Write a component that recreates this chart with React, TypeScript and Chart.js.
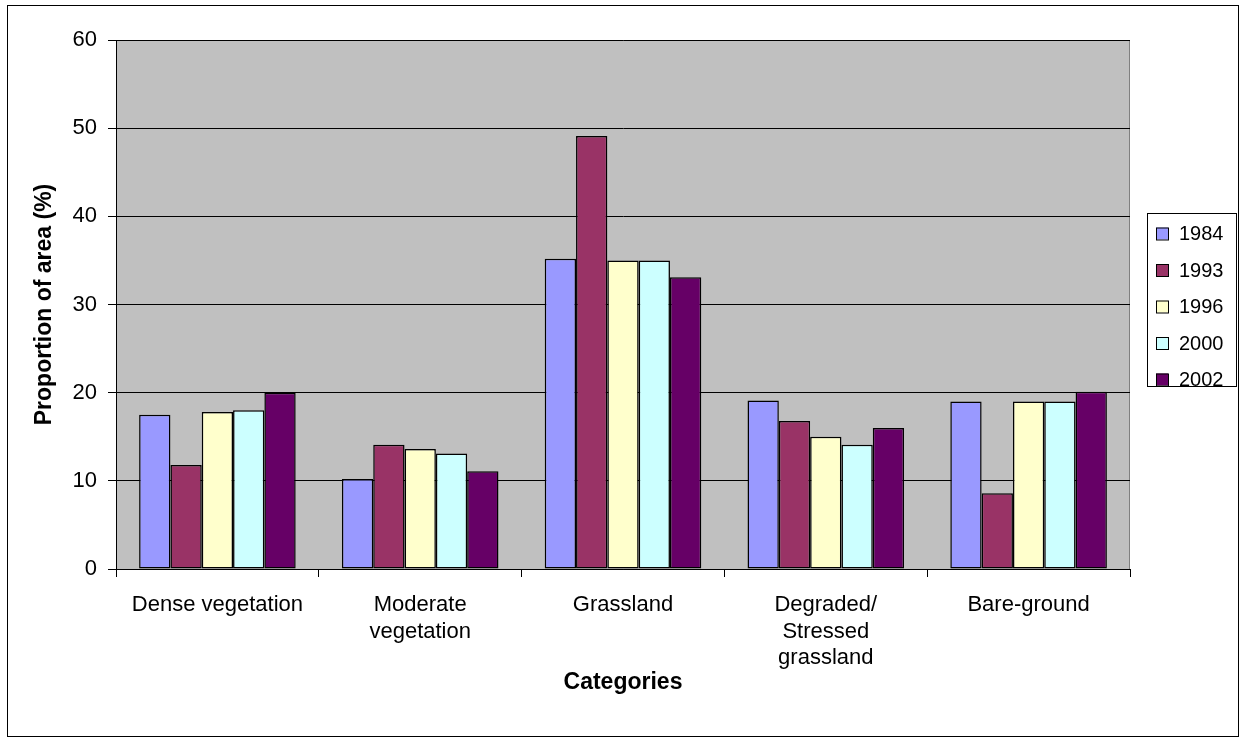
import React, { useEffect, useRef } from "react";
import { Chart, registerables } from "chart.js";

Chart.register(...registerables);

// Land-cover categories (multi-line labels on the x axis)
const categories: string[][] = [
  ["Dense vegetation"],
  ["Moderate", "vegetation"],
  ["Grassland"],
  ["Degraded/", "Stressed", "grassland"],
  ["Bare-ground"],
];

const years = ["1984", "1993", "1996", "2000", "2002"];

// Proportion of area (%) per category, one array per year
const values1984 = [17.5, 10.2, 35.2, 19.1, 19.0];
const values1993 = [11.8, 14.1, 49.1, 16.8, 8.6];
const values1996 = [17.8, 13.6, 35.0, 15.0, 19.0];
const values2000 = [18.0, 13.1, 35.0, 14.1, 19.0];
const values2002 = [20.0, 11.1, 33.1, 16.0, 20.1];

const yTicks = [0, 10, 20, 30, 40, 50, 60];

const seriesColors = ["#9999FF", "#993366", "#FFFFCC", "#CCFFFF", "#660066"];

const FONT = "'Liberation Sans', Arial, Helvetica, sans-serif";

// Page frame, plot background, axis titles and the boxed legend
const decorations = {
  id: "decorations",
  beforeDraw(chart: any) {
    const { ctx, chartArea } = chart;
    ctx.save();
    ctx.fillStyle = "#ffffff";
    ctx.fillRect(0, 0, chart.width, chart.height);
    ctx.strokeStyle = "#000000";
    ctx.lineWidth = 1;
    ctx.strokeRect(7.5, 5.5, 1231, 731);
    ctx.fillStyle = "#C0C0C0";
    ctx.fillRect(chartArea.left, chartArea.top, chartArea.right - chartArea.left, chartArea.bottom - chartArea.top);
    ctx.strokeStyle = "#808080";
    ctx.strokeRect(chartArea.left + 0.5, chartArea.top + 0.5, chartArea.right - chartArea.left - 1, chartArea.bottom - chartArea.top);
    ctx.restore();
  },
  afterDraw(chart: any) {
    const { ctx, chartArea } = chart;
    ctx.save();
    ctx.fillStyle = "#000000";
    ctx.font = `bold 23px ${FONT}`;
    ctx.textAlign = "center";
    ctx.textBaseline = "middle";
    ctx.fillText("Categories", (chartArea.left + chartArea.right) / 2, 683);
    ctx.translate(45, (chartArea.top + chartArea.bottom) / 2);
    ctx.rotate(-Math.PI / 2);
    ctx.fillText("Proportion of area (%)", 0, 0);
    ctx.restore();

    // legend
    const lx = 1147, ly = 213, lw = 89, lh = 173;
    ctx.save();
    ctx.fillStyle = "#ffffff";
    ctx.fillRect(lx, ly, lw, lh);
    ctx.strokeStyle = "#000000";
    ctx.lineWidth = 1;
    ctx.strokeRect(lx + 0.5, ly + 0.5, lw, lh);
    ctx.font = `20px ${FONT}`;
    ctx.textAlign = "left";
    ctx.textBaseline = "middle";
    chart.data.datasets.forEach((ds: any, i: number) => {
      const cy = 233.5 + i * 36.5;
      ctx.fillStyle = ds.backgroundColor;
      ctx.fillRect(1156, cy - 6, 12, 12);
      ctx.strokeStyle = "#000000";
      ctx.strokeRect(1156.5, cy - 5.5, 12, 12);
      ctx.fillStyle = "#000000";
      ctx.fillText(ds.label, 1179, cy + 1);
    });
    ctx.restore();
  },
};

export default function App() {
  const canvasRef = useRef<HTMLCanvasElement | null>(null);

  useEffect(() => {
    const canvas = canvasRef.current;
    if (!canvas) return;
    const seriesValues = [values1984, values1993, values1996, values2000, values2002];
    const chart = new Chart(canvas, {
      type: "bar",
      data: {
        labels: categories,
        datasets: years.map((y, i) => ({
          label: y,
          data: seriesValues[i],
          backgroundColor: seriesColors[i],
          borderColor: "#000000",
          borderWidth: 1.5,
          borderSkipped: false,
          categoryPercentage: 0.772,
          barPercentage: 1,
        })),
      },
      options: {
        responsive: false,
        animation: false,
        devicePixelRatio: 1,
        layout: { padding: { top: 40, right: 117, bottom: 0, left: 0 } },
        plugins: {
          legend: { display: false },
          tooltip: { enabled: false },
        },
        scales: {
          x: {
            type: "category",
            offset: true,
            grid: {
              display: true,
              drawOnChartArea: false,
              drawTicks: true,
              tickLength: 8,
              color: "#000000",
              offset: true,
            },
            border: { display: true, color: "#000000" },
            ticks: {
              color: "#000000",
              font: { family: FONT, size: 22 },
              padding: 15,
              maxRotation: 0,
              autoSkip: false,
            },
            afterFit(scale: any) {
              scale.height = 742 - 569;
            },
          },
          y: {
            min: 0,
            max: 60,
            afterBuildTicks(scale: any) {
              scale.ticks = yTicks.map((v) => ({ value: v }));
            },
            grid: {
              color: "#000000",
              tickLength: 8,
              drawTicks: true,
            },
            border: { display: true, color: "#000000" },
            ticks: {
              color: "#000000",
              font: { family: FONT, size: 22 },
              padding: 11,
            },
            afterFit(scale: any) {
              scale.width = 116;
            },
          },
        },
      },
      plugins: [decorations],
    });
    return () => chart.destroy();
  }, []);

  return (
    <div style={{ position: "absolute", left: 0, top: 0, width: 1247, height: 742, background: "#fff" }}>
      <canvas ref={canvasRef} width={1247} height={742} style={{ display: "block" }} />
    </div>
  );
}
